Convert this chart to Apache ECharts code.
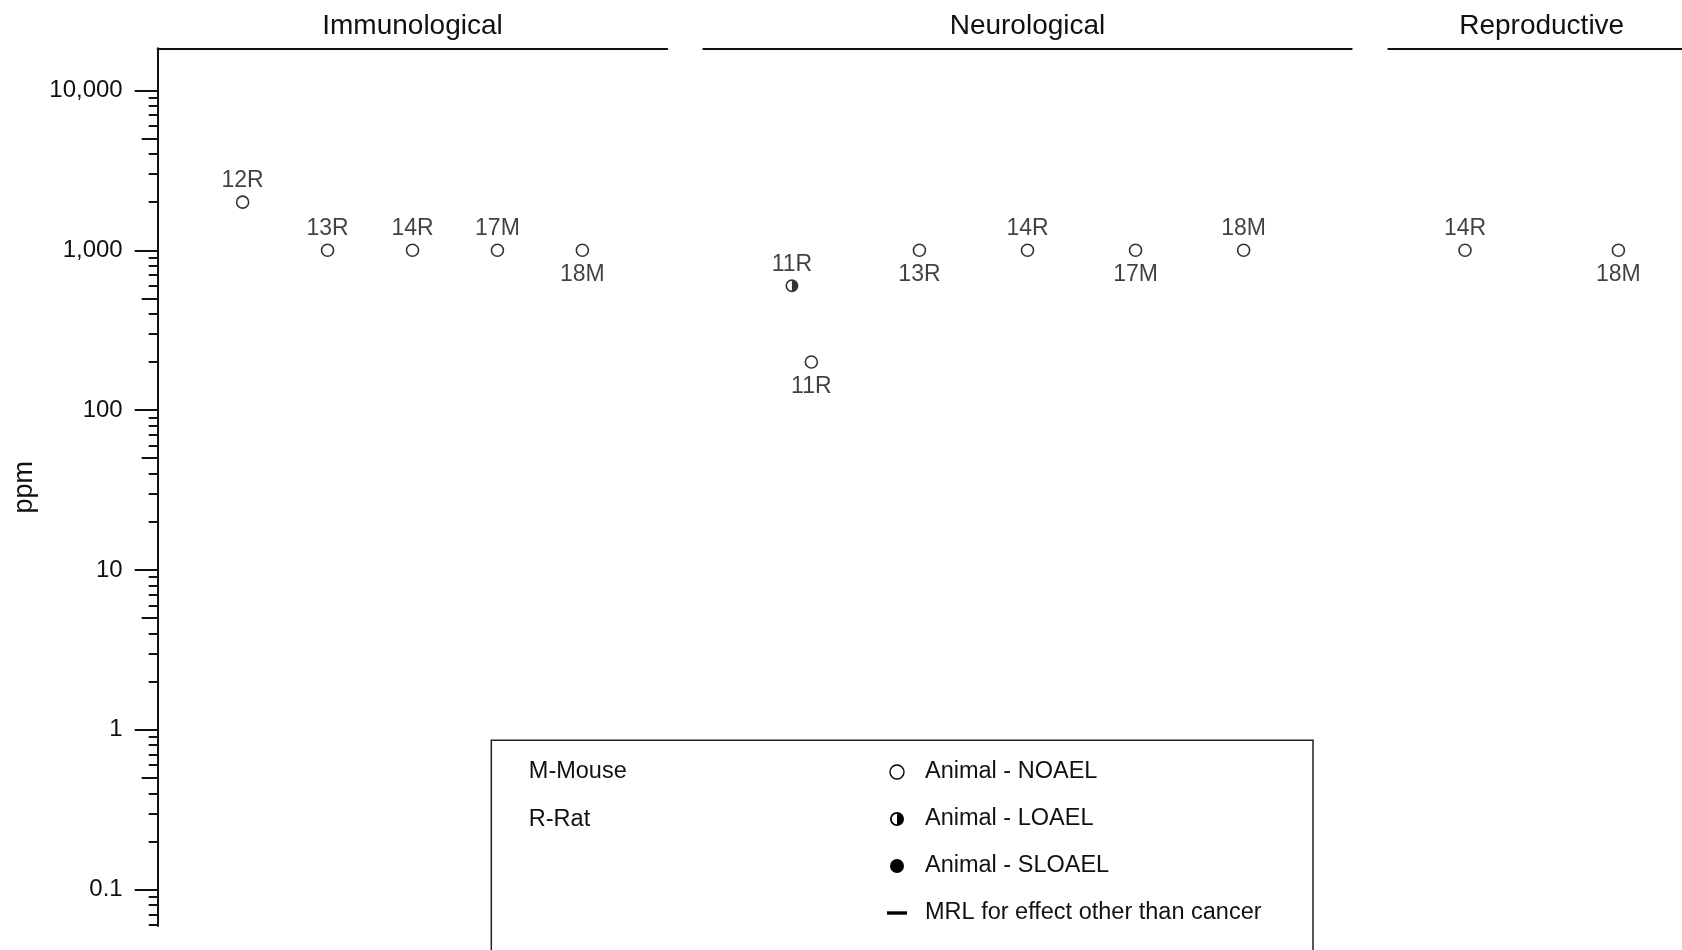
<!DOCTYPE html>
<html>
<head>
<meta charset="utf-8">
<script src="https://cdn.jsdelivr.net/npm/echarts@6/dist/echarts.min.js"></script>
<style>
html,body{margin:0;padding:0;background:#ffffff;}
#chart{width:1682px;height:950px;}
</style>
</head>
<body>
<div id="chart"></div>
<script>
// ---------------- data ----------------
const panels = ['Immunological', 'Neurological', 'Reproductive'];
const panelSlots = [6, 6, 4];

const immunoNoaelX = [1, 2, 3, 4, 5];
const immunoNoaelPpm = [2000, 1000, 1000, 1000, 1000];
const immunoNoaelKey = ['12R', '13R', '14R', '17M', '18M'];

const neuroNoaelX = [1, 2, 3, 4, 5];
const neuroNoaelPpm = [200, 1000, 1000, 1000, 1000];
const neuroNoaelKey = ['11R', '13R', '14R', '17M', '18M'];

const neuroLoaelX = [0.82];
const neuroLoaelPpm = [600];
const neuroLoaelKey = ['11R'];

const reproNoaelX = [1, 3];
const reproNoaelPpm = [1000, 1000];
const reproNoaelKey = ['14R', '18M'];

const yMajorTicks = [0.1, 1, 10, 100, 1000, 10000];
const yTickLabels = ['0.1', '1', '10', '100', '1,000', '10,000'];
const yHalfTicks = [0.5, 5, 50, 500, 5000];
const yMinorTicks = [0.06, 0.07, 0.08, 0.09, 0.2, 0.3, 0.4, 0.6, 0.7, 0.8, 0.9,
  2, 3, 4, 6, 7, 8, 9, 20, 30, 40, 60, 70, 80, 90, 200, 300, 400, 600, 700, 800, 900,
  2000, 3000, 4000, 6000, 7000, 8000, 9000];

const speciesKey = ['M-Mouse', 'R-Rat'];
const legendNames = ['Animal - NOAEL', 'Animal - LOAEL', 'Animal - SLOAEL', 'MRL for effect other than cancer'];

// ---------------- styling / layout ----------------
const immunoLabelSide = ['top', 'top', 'top', 'top', 'bottom'];
const neuroNoaelLabelSide = ['bottom', 'bottom', 'top', 'bottom', 'top'];
const neuroLoaelLabelSide = ['top'];
const reproLabelSide = ['top', 'bottom'];

const FONT = '"Liberation Sans", Arial, Helvetica, sans-serif';
const INK = '#000000';
const Y_MIN = 0.0591, Y_MAX = 18360;
const GRID_TOP = 48.3, GRID_H = 877.7;
const gridBoxes = [
  { left: 157.7, width: 509.6 },
  { left: 703.3, width: 648.4 },
  { left: 1388.3, width: 306.8 }
];
const HALF_PATH = 'path://M10 0A10 10 0 1 1 10 20A10 10 0 1 1 10 0ZM10 2.6A7.4 7.4 0 1 0 10 17.4A7.4 7.4 0 1 0 10 2.6ZM10 2.6A7.4 7.4 0 0 1 10 17.4Z';
const DASH_PATH = 'path://M0 0H20V3.4H0Z';

function labelFor(v) {
  const i = yMajorTicks.findIndex(t => Math.abs(Math.log10(t) - Math.log10(v)) < 1e-6);
  return i >= 0 ? yTickLabels[i] : '';
}

function pts(xs, ys, keys, sides) {
  return xs.map((x, i) => ({
    value: [x, ys[i]],
    name: keys[i],
    label: { position: sides[i], distance: sides[i] === 'top' ? 3 : 6 }
  }));
}

const pointLabel = { show: true, formatter: '{b}', fontSize: 23, color: '#111111', fontFamily: FONT };
const noaelStyle = { color: '#ffffff', borderColor: INK, borderWidth: 1.6 };

const grids = gridBoxes.map(g => ({
  left: g.left, width: g.width, top: GRID_TOP, height: GRID_H,
  containLabel: false, outerBoundsMode: 'none', show: false
}));

const xAxes = panels.map((p, i) => ({
  type: 'value', gridIndex: i, position: 'top', min: 0, max: panelSlots[i],
  name: p, nameLocation: 'middle', nameGap: 8,
  nameTextStyle: { fontSize: 28, color: '#111111', fontFamily: FONT },
  axisLine: { show: true, onZero: false, lineStyle: { color: '#111111', width: 2 } },
  axisTick: { show: false }, axisLabel: { show: false }, splitLine: { show: false }
}));

const baseY = { type: 'log', logBase: 10, min: Y_MIN, max: Y_MAX, position: 'left', splitLine: { show: false } };

const yAxes = [
  Object.assign({}, baseY, {
    gridIndex: 0,
    name: 'ppm', nameLocation: 'middle', nameGap: 120,
    nameTextStyle: { fontSize: 27, color: '#111111', fontFamily: FONT },
    axisLine: { show: true, lineStyle: { color: '#111111', width: 2 } },
    axisTick: { show: true, customValues: yMajorTicks, length: 23, lineStyle: { color: '#111111', width: 2 } },
    axisLabel: { show: true, customValues: yMajorTicks, margin: 35, fontSize: 24, color: '#111111', fontFamily: FONT, formatter: labelFor }
  }),
  Object.assign({}, baseY, {
    gridIndex: 0,
    axisLine: { show: false },
    axisTick: { show: true, customValues: yHalfTicks, length: 16, lineStyle: { color: '#111111', width: 2 } },
    axisLabel: { show: false }
  }),
  Object.assign({}, baseY, {
    gridIndex: 0,
    axisLine: { show: false },
    axisTick: { show: true, customValues: yMinorTicks, length: 9, lineStyle: { color: '#111111', width: 2 } },
    axisLabel: { show: false }
  }),
  Object.assign({}, baseY, { gridIndex: 1, show: false }),
  Object.assign({}, baseY, { gridIndex: 2, show: false })
];

const series = [
  {
    name: legendNames[0], type: 'scatter', xAxisIndex: 0, yAxisIndex: 0,
    symbol: 'circle', symbolSize: 12, itemStyle: noaelStyle, label: pointLabel,
    data: pts(immunoNoaelX, immunoNoaelPpm, immunoNoaelKey, immunoLabelSide)
  },
  {
    name: legendNames[0], type: 'scatter', xAxisIndex: 1, yAxisIndex: 3,
    symbol: 'circle', symbolSize: 12, itemStyle: noaelStyle, label: pointLabel,
    data: pts(neuroNoaelX, neuroNoaelPpm, neuroNoaelKey, neuroNoaelLabelSide)
  },
  {
    name: legendNames[1], type: 'scatter', xAxisIndex: 1, yAxisIndex: 3,
    symbol: HALF_PATH, symbolSize: 13, itemStyle: { color: INK }, label: pointLabel,
    data: pts(neuroLoaelX, neuroLoaelPpm, neuroLoaelKey, neuroLoaelLabelSide)
  },
  {
    name: legendNames[0], type: 'scatter', xAxisIndex: 2, yAxisIndex: 4,
    symbol: 'circle', symbolSize: 12, itemStyle: noaelStyle, label: pointLabel,
    data: pts(reproNoaelX, reproNoaelPpm, reproNoaelKey, reproLabelSide)
  },
  {
    name: legendNames[2], type: 'scatter', xAxisIndex: 0, yAxisIndex: 0,
    symbol: 'circle', itemStyle: { color: INK }, data: []
  },
  {
    name: legendNames[3], type: 'scatter', xAxisIndex: 0, yAxisIndex: 0,
    symbol: DASH_PATH, itemStyle: { color: INK }, data: []
  }
];

const option = {
  backgroundColor: '#ffffff',
  animation: false,
  grid: grids,
  xAxis: xAxes,
  yAxis: yAxes,
  series: series.map(s => Object.assign({ emphasis: { disabled: true }, silent: true }, s)),
  legend: {
    orient: 'vertical', left: 887, top: 760, padding: 0,
    itemGap: 23, itemWidth: 20, itemHeight: 14, selectedMode: false,
    textStyle: { fontSize: 23.5, color: '#111111', fontFamily: FONT, lineHeight: 24, padding: [0, 0, 0, 13] },
    data: [
      { name: legendNames[0], icon: 'circle', itemStyle: { color: '#ffffff', borderColor: INK, borderWidth: 1.4, opacity: 1 } },
      { name: legendNames[1], icon: HALF_PATH, itemStyle: { color: INK, borderWidth: 0, opacity: 1 } },
      { name: legendNames[2], icon: 'circle', itemStyle: { color: INK, borderWidth: 0, opacity: 1 } },
      { name: legendNames[3], icon: DASH_PATH, itemStyle: { color: INK, borderWidth: 0, opacity: 1 } }
    ]
  },
  graphic: [
    { type: 'rect', silent: true, shape: { x: 491.3, y: 740.2, width: 821.7, height: 260 },
      style: { fill: 'none', stroke: '#222222', lineWidth: 1.5 } },
    { type: 'text', silent: true, x: 528.8, y: 772,
      style: { text: speciesKey[0], fontSize: 23.5, fontFamily: FONT, fill: '#111111', verticalAlign: 'middle', align: 'left' } },
    { type: 'text', silent: true, x: 528.8, y: 819.2,
      style: { text: speciesKey[1], fontSize: 23.5, fontFamily: FONT, fill: '#111111', verticalAlign: 'middle', align: 'left' } }
  ]
};

const chart = echarts.init(document.getElementById('chart'), null, { renderer: 'canvas' });
chart.setOption(option);
</script>
</body>
</html>
